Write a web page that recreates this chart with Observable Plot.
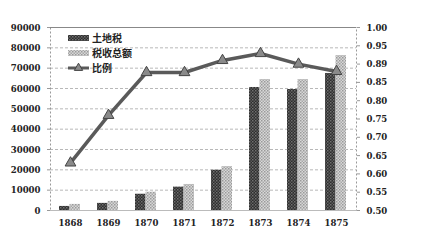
<!DOCTYPE html>
<html>
<head>
<meta charset="utf-8">
<script src="https://cdn.jsdelivr.net/npm/d3@7"></script>
<script src="https://cdn.jsdelivr.net/npm/@observablehq/plot@0.6"></script>
<style>
  html, body { margin: 0; padding: 0; background: #fff; }
  #chart { width: 422px; height: 244px; }
</style>
</head>
<body>
<div id="chart"></div>
<script>
const years = ["1868", "1869", "1870", "1871", "1872", "1873", "1874", "1875"];
const landTax = [2000, 3500, 8000, 11500, 19800, 60500, 59500, 67400];
const totalTax = [3000, 4500, 9000, 12800, 21600, 64400, 64400, 76200];
const ratio = [0.63, 0.76, 0.877, 0.877, 0.91, 0.929, 0.90, 0.88];
const leftTicks = [0, 10000, 20000, 30000, 40000, 50000, 60000, 70000, 80000, 90000];
const rightTicks = [0.50, 0.55, 0.60, 0.65, 0.70, 0.75, 0.80, 0.85, 0.90, 0.95, 1.00];
const rightTickLabels = ["0.50", "0.55", "0.60", "0.65", "0.70", "0.75", "0.80", "0.85", "0.89", "0.95", "1.00"];
const seriesNames = ["土地税", "税收总额", "比例"];

const rows = years.map((y, i) => ({year: y, land: landTax[i], total: totalTax[i], ratio: ratio[i]}));
// map the right-hand ratio scale (0.5–1.0) onto the left-hand scale (0–90000)
const toLeft = r => (r - 0.5) / 0.5 * 90000;

const font = "'DejaVu Serif Condensed', 'DejaVu Serif', 'Noto Sans CJK SC', serif";

const svg = Plot.plot({
  width: 422,
  height: 244,
  marginLeft: 50,
  marginRight: 66,
  marginTop: 27,
  marginBottom: 34,
  style: {fontSize: "9.5px", color: "#222", background: "#fff"},
  x: {type: "band", domain: years, padding: 0},
  y: {domain: [0, 90000]},
  marks: [
    Plot.ruleY(leftTicks.slice(1, -1), {stroke: "#b8b8b8", strokeDasharray: "3,2"}),
    Plot.frame({stroke: "#999", strokeDasharray: "2,2"}),
    Plot.ruleY([90000], {stroke: "#888", strokeWidth: 1.2}),
    Plot.ruleY([0], {stroke: "#bbb"}),
    Plot.barY(rows, {x: "year", y: "land", fill: "url(#darkPat)", insetLeft: 8, insetRight: 19.5}),
    Plot.barY(rows, {x: "year", y: "total", fill: "url(#lightPat)", insetLeft: 18.5, insetRight: 9}),
    Plot.lineY(rows, {x: "year", y: d => toLeft(d.ratio), stroke: "#5a5a5a", strokeWidth: 3.5}),
    Plot.dot(rows, {x: "year", y: d => toLeft(d.ratio), symbol: "triangle", r: 4, fill: "#8a8a8a", stroke: "#444", strokeWidth: 1}),
    Plot.axisX({tickSize: 0, tickPadding: 9, label: null}),
    Plot.axisY({anchor: "left", ticks: leftTicks, tickSize: 3, tickPadding: 7, tickFormat: d => String(d), label: null, stroke: "#999"}),
    Plot.axisY({anchor: "right", ticks: rightTicks.map(toLeft), tickSize: 3, tickPadding: 7,
      tickFormat: (d, i) => rightTickLabels[i], label: null, stroke: "#999"})
  ]
});

const s = d3.select(svg);
s.attr("font-family", font).style("font-family", font).attr("font-weight", "bold").style("font-weight", "bold");
s.selectAll("text").attr("font-family", font).style("font-family", font);
const defs = s.insert("defs", ":first-child");
const dark = defs.append("pattern").attr("id", "darkPat").attr("patternUnits", "userSpaceOnUse").attr("width", 3).attr("height", 3);
dark.append("rect").attr("width", 3).attr("height", 3).attr("fill", "#2e2e2e");
dark.append("rect").attr("width", 1.5).attr("height", 1.5).attr("fill", "#707070");
dark.append("rect").attr("x", 1.5).attr("y", 1.5).attr("width", 1.5).attr("height", 1.5).attr("fill", "#5a5a5a");
const light = defs.append("pattern").attr("id", "lightPat").attr("patternUnits", "userSpaceOnUse").attr("width", 3).attr("height", 3);
light.append("rect").attr("width", 3).attr("height", 3).attr("fill", "#d8d8d8");
light.append("rect").attr("width", 1.5).attr("height", 1.5).attr("fill", "#9a9a9a");
light.append("rect").attr("x", 1.5).attr("y", 1.5).attr("width", 1.5).attr("height", 1.5).attr("fill", "#a8a8a8");

// legend inside the plot area
const lfont = "'Noto Sans CJK SC', sans-serif";
const lg = s.append("g").attr("text-anchor", "start").attr("font-size", "10px").attr("font-family", lfont).style("font-family", lfont).attr("fill", "#222");
const lx = 68, ly = [38, 53, 68];
lg.append("rect").attr("x", lx).attr("y", ly[0] - 3).attr("width", 21).attr("height", 6).attr("fill", "url(#darkPat)");
lg.append("rect").attr("x", lx).attr("y", ly[1] - 3).attr("width", 21).attr("height", 6).attr("fill", "url(#lightPat)");
lg.append("line").attr("x1", lx).attr("x2", lx + 21).attr("y1", ly[2]).attr("y2", ly[2]).attr("stroke", "#5a5a5a").attr("stroke-width", 3);
lg.append("path").attr("d", d3.symbol(d3.symbolTriangle, 30)()).attr("transform", `translate(${lx + 10.5},${ly[2]})`).attr("fill", "#8a8a8a").attr("stroke", "#444");
seriesNames.forEach((n, i) => {
  lg.append("text").attr("x", lx + 24).attr("y", ly[i]).attr("dy", "0.35em").style("font-family", lfont).text(n);
});

document.getElementById("chart").appendChild(svg);
</script>
</body>
</html>
